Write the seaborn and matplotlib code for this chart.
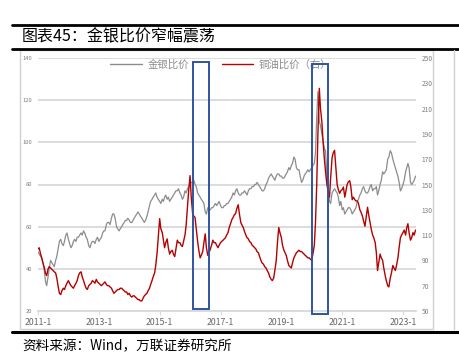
import numpy as np
import pandas as pd
import matplotlib
matplotlib.use("Agg")
import matplotlib.pyplot as plt
import seaborn as sns
from matplotlib.lines import Line2D
from matplotlib.patches import Rectangle

# ---------------- data (semi-monthly) ----------------
start_date = "2011-01-01"

gold_silver = [
    # 2011
    48, 47, 46, 45, 43, 40, 34, 32, 36, 40, 44, 43, 42, 41, 44, 46, 50, 53, 54, 52, 51, 53, 56, 57,
    # 2012
    54, 52, 50, 51, 53, 54, 53, 55, 55, 56, 57, 56, 58, 57, 55, 54, 51, 50, 52, 53, 53, 52, 54, 55,
    # 2013
    53, 54, 55, 57, 58, 58, 61, 62, 62, 61, 64, 66, 66, 64, 60, 59, 58, 59, 60, 61, 62, 63, 63, 64,
    # 2014
    63, 62, 62, 63, 64, 65, 66, 67, 66, 65, 64, 63, 62, 63, 65, 67, 70, 72, 73, 74, 75, 76, 74, 73,
    # 2015
    72, 71, 73, 72, 74, 75, 73, 74, 72, 73, 74, 75, 76, 77, 77, 78, 76, 75, 73, 74, 77, 76, 78, 79,
    # 2016
    80, 81, 81, 82, 80, 79, 76, 75, 74, 73, 72, 71, 67, 66, 69, 68, 68, 69, 69, 70, 71, 70, 71, 72,
    # 2017
    70, 69, 69, 70, 70, 71, 71, 72, 73, 74, 76, 75, 77, 78, 76, 75, 75, 76, 76, 77, 76, 75, 77, 78,
    # 2018
    78, 79, 79, 80, 80, 81, 80, 79, 78, 77, 77, 78, 80, 81, 83, 84, 85, 84, 83, 82, 84, 85, 85, 84,
    # 2019
    84, 83, 83, 84, 85, 86, 88, 87, 89, 90, 93, 92, 88, 87, 87, 84, 81, 82, 84, 85, 86, 87, 86, 87,
    # 2020
    88, 89, 90, 95, 112, 124, 110, 108, 104, 101, 97, 96, 84, 79, 72, 71, 76, 77, 78, 77, 76, 74, 70, 72,
    # 2021
    68, 69, 66, 67, 68, 69, 69, 68, 66, 67, 68, 69, 72, 73, 75, 76, 78, 79, 77, 76, 76, 77, 79, 80,
    # 2022
    77, 78, 78, 79, 75, 77, 80, 82, 86, 85, 86, 87, 92, 93, 96, 95, 92, 90, 88, 86, 84, 81, 77, 78,
    # 2023
    80, 82, 86, 88, 90, 88, 81, 80, 81, 82, 84,
]

copper_oil = [
    # 2011
    99, 100, 95, 92, 88, 85, 80, 78, 83, 85, 84, 83, 82, 81, 80, 76, 69, 64, 63, 66, 68, 67, 70, 72,
    # 2012
    74, 72, 70, 69, 68, 70, 72, 74, 78, 80, 81, 77, 74, 71, 68, 67, 70, 71, 72, 74, 73, 72, 75, 73,
    # 2013
    72, 71, 70, 71, 72, 73, 71, 70, 70, 69, 68, 66, 64, 65, 66, 67, 67, 68, 68, 67, 66, 65, 65, 63,
    # 2014
    64, 62, 61, 62, 62, 61, 60, 59, 59, 58, 58, 60, 62, 63, 64, 66, 68, 71, 74, 77, 80, 86, 96, 108,
    # 2015
    123, 115, 112, 106, 100, 104, 107, 100, 95, 97, 98, 95, 93, 99, 106, 104, 104, 102, 101, 105, 110, 118, 132, 145,
    # 2016
    157, 140, 127, 125, 124, 115, 105, 98, 92, 94, 97, 104, 111, 100, 94, 96, 99, 102, 106, 104, 104, 102, 100, 102,
    # 2017
    104, 105, 106, 107, 108, 110, 112, 116, 119, 122, 124, 126, 127, 131, 134, 127, 120, 118, 116, 113, 110, 108, 107, 105,
    # 2018
    104, 102, 101, 100, 99, 97, 96, 93, 90, 88, 87, 85, 84, 82, 80, 77, 75, 74, 76, 82, 90, 104, 116, 112,
    # 2019
    108, 102, 98, 96, 94, 90, 86, 85, 84, 88, 92, 94, 96, 97, 98, 97, 97, 96, 95, 94, 93, 92, 92, 91,
    # 2020
    90, 95, 102, 120, 150, 190, 226, 210, 200, 185, 170, 160, 150, 145, 140, 155, 171, 175, 177, 165, 150, 146, 143, 145,
    # 2021
    146, 148, 140, 145, 150, 152, 153, 148, 138, 140, 138, 137, 137, 135, 130, 128, 125, 121, 117, 124, 132, 126, 120, 115,
    # 2022
    110, 108, 104, 96, 82, 88, 95, 92, 90, 84, 78, 74, 70, 69, 76, 80, 86, 84, 82, 86, 92, 100, 108, 110,
    # 2023
    112, 114, 110, 116, 119, 112, 106, 108, 112, 110, 114,
]

x_tick_years = [2011, 2013, 2015, 2017, 2019, 2021, 2023]
x_tick_labels = ["2011-1", "2013-1", "2015-1", "2017-1", "2019-1", "2021-1", "2023-1"]
left_ticks = [20, 40, 60, 80, 100, 120, 140]
right_ticks = [50, 70, 90, 110, 130, 150, 170, 190, 210, 230, 250]

label_gs = "金银比价"
label_co = "铜油比价（右）"
title_text = "图表45：金银比价窄幅震荡"
source_text = "资料来源：Wind，万联证券研究所"

# highlighted windows (start, end dates)
windows = [("2016-02-06", "2016-08-18"), ("2020-01-04", "2020-07-16")]

n = min(len(gold_silver), len(copper_oil))
dates = pd.date_range(start_date, periods=n, freq="SMS")
df = pd.DataFrame({"date": dates, "gs": gold_silver[:n], "co": copper_oil[:n]})

# ---------------- style ----------------
sns.set_theme(style="white")
plt.rcParams["font.family"] = ["Noto Sans CJK SC", "DejaVu Sans"]

W, H = 459, 360
fig = plt.figure(figsize=(W / 100, H / 100), dpi=100)
fig.patch.set_facecolor("white")


def fx(px):
    return px / W


def fy(py):
    return 1 - py / H


ax = fig.add_axes([fx(38), fy(311), fx(416) - fx(38), fy(58) - fy(311)])
ax2 = ax.twinx()

gray = "#8c8c8c"
red = "#b40000"
grid_c = "#d9d9d9"
tick_c = "#7f7f7f"

sns.lineplot(data=df, x="date", y="gs", ax=ax, color=gray, linewidth=0.9, label=label_gs, legend=False)
sns.lineplot(data=df, x="date", y="co", ax=ax2, color=red, linewidth=1.0, label=label_co, legend=False)

ax.set_xlim(pd.Timestamp("2011-01-01"), pd.Timestamp("2023-06-06"))
ax.set_ylim(20, 140)
ax2.set_ylim(50, 250)

ax.set_yticks(left_ticks)
ax.set_yticklabels([str(v) for v in left_ticks])
ax2.set_yticks(right_ticks)
ax2.set_yticklabels([str(v) for v in right_ticks])

ax.set_xticks([pd.Timestamp(f"{y}-01-01") for y in x_tick_years])
ax.set_xticklabels(x_tick_labels)

ax.set_xlabel("")
ax.set_ylabel("")
ax2.set_ylabel("")

ax.yaxis.grid(True, color=grid_c, linewidth=1.3)
ax.xaxis.grid(False)
ax2.grid(False)
ax.set_axisbelow(True)

for s in ["left", "right", "top"]:
    ax.spines[s].set_visible(False)
for s in ["left", "right", "top", "bottom"]:
    ax2.spines[s].set_visible(False)
ax.spines["bottom"].set_color(grid_c)
ax.spines["bottom"].set_linewidth(1.3)

ax.tick_params(axis="y", length=0, pad=4, labelsize=4.2, labelcolor=tick_c)
ax2.tick_params(axis="y", length=0, pad=4, labelsize=4.8, labelcolor=tick_c)
ax.tick_params(axis="x", length=3, width=0.8, color=grid_c, direction="out", pad=2,
               labelsize=6.3, labelcolor="#666666", bottom=True)

# legend (drawn beneath the highlight boxes)
handles = [Line2D([], [], color=gray, linewidth=1.0), Line2D([], [], color="#c00000", linewidth=1.0)]
leg = ax2.legend(handles, [label_gs, label_co], loc="center", ncol=2, frameon=False,
                 bbox_to_anchor=(fx(221), fy(65)), bbox_transform=fig.transFigure,
                 fontsize=7.5, handlelength=3.0, handletextpad=0.6, columnspacing=3.1)
for t in leg.get_texts():
    t.set_color("#8c8c8c")
leg.set_zorder(5)

# highlight boxes (in left-axis data coords)
box_tops = [138, 137]
box_bottoms = [21, 18.6]
for (a, b), top, bot in zip(windows, box_tops, box_bottoms):
    x0 = matplotlib.dates.date2num(pd.Timestamp(a))
    x1 = matplotlib.dates.date2num(pd.Timestamp(b))
    r = Rectangle((x0, bot), x1 - x0, top - bot, fill=False, edgecolor="#2f55a0",
                  linewidth=1.4, transform=ax.transData, clip_on=False, zorder=10)
    ax2.add_patch(r)

# ---------------- page decorations ----------------
black_lw = 2.0
fig.add_artist(Line2D([fx(12), 1], [fy(25), fy(25)], color="black", linewidth=black_lw))
fig.add_artist(Line2D([fx(12), 1], [fy(48.5), fy(48.5)], color="black", linewidth=black_lw))
fig.add_artist(Line2D([fx(12), 1], [fy(331.5), fy(331.5)], color="black", linewidth=2.2))

# chart frame
fig.add_artist(Rectangle((fx(20), fy(329)), fx(433) - fx(20), fy(50) - fy(329), fill=False,
                         edgecolor="#d0d0d0", linewidth=1.0))
# neighbouring chart edge (cut off)
fig.add_artist(Line2D([fx(454), fx(454)], [fy(329), fy(50)], color="#d0d0d0", linewidth=1.0))

fig.text(fx(22), fy(37), title_text, fontsize=11.5, color="black", va="center", ha="left")
fig.text(fx(22), fy(346), source_text, fontsize=9.8, color="black", va="center", ha="left",
         style="italic")

fig.savefig("out.png", dpi=100, facecolor="white")
